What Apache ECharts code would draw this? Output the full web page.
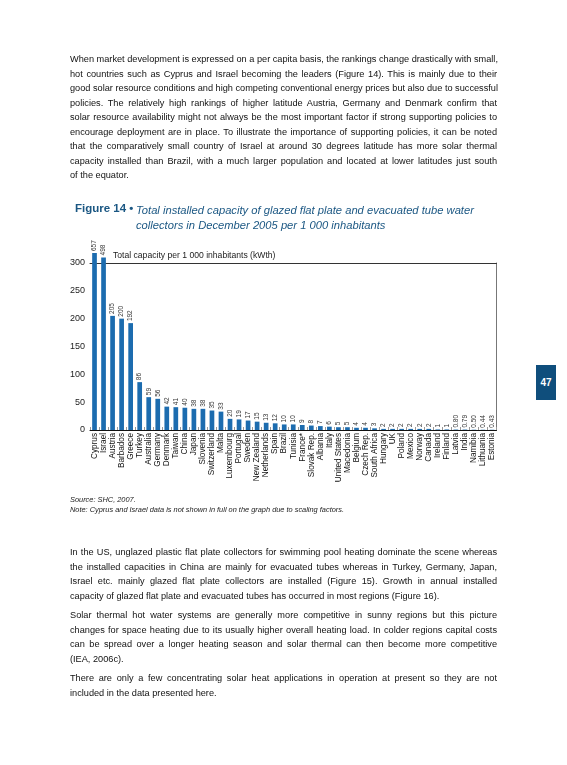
<!DOCTYPE html>
<html>
<head>
<meta charset="utf-8">
<title>Figure 14</title>
<script src="https://cdn.jsdelivr.net/npm/echarts@6/dist/echarts.min.js"></script>
<style>
  html, body { margin: 0; padding: 0; background: #fff; }
  #page { position: relative; width: 567px; height: 765px; overflow: hidden; }
  #main { position: absolute; left: 0; top: 0; width: 567px; height: 765px; }
  .txt { position: absolute; left: 70px; width: 427px; font-family: "Liberation Sans", Arial, sans-serif;
         font-size: 9.2px; line-height: 14.5px; color: #111; }
  .txt div { text-align: justify; text-align-last: justify; white-space: nowrap; overflow: visible; }
  .txt div.last { text-align-last: left; }
  .src { position: absolute; left: 70px; top: 495px; font-family: "Liberation Sans", Arial, sans-serif;
         font-style: italic; font-size: 7.4px; line-height: 10px; color: #222; }
  #pnum { position: absolute; left: 536px; top: 365px; width: 20px; height: 35px; background: #0f4e7c;
          color: #fff; font: bold 10px "Liberation Sans", Arial, sans-serif; text-align: center; line-height: 35px; }
</style>
</head>
<body>
<div id="page">
  <div id="main"></div>
  <div class="txt" style="top:52px">
    <div>When market development is expressed on a per capita basis, the rankings change drastically with small,</div>
    <div>hot countries such as Cyprus and Israel becoming the leaders (Figure 14). This is mainly due to their</div>
    <div>good solar resource conditions and high competing conventional energy prices but also due to successful</div>
    <div>policies. The relatively high rankings of higher latitude Austria, Germany and Denmark confirm that</div>
    <div>solar resource availability might not always be the most important factor if strong supporting policies to</div>
    <div>encourage deployment are in place. To illustrate the importance of supporting policies, it can be noted</div>
    <div>that the comparatively small country of Israel at around 30 degrees latitude has more solar thermal</div>
    <div>capacity installed than Brazil, with a much larger population and located at lower latitudes just south</div>
    <div class="last">of the equator.</div>
  </div>
  <div class="src">Source: SHC, 2007.<br>Note: Cyprus and Israel data is not shown in full on the graph due to scaling factors.</div>
  <div class="txt" style="top:545px">
    <div>In the US, unglazed plastic flat plate collectors for swimming pool heating dominate the scene whereas</div>
    <div>the installed capacities in China are mainly for evacuated tubes whereas in Turkey, Germany, Japan,</div>
    <div>Israel etc. mainly glazed flat plate collectors are installed (Figure 15). Growth in annual installed</div>
    <div class="last">capacity of glazed flat plate and evacuated tubes has occurred in most regions (Figure 16).</div>
  </div>
  <div class="txt" style="top:608px">
    <div>Solar thermal hot water systems are generally more competitive in sunny regions but this picture</div>
    <div>changes for space heating due to its usually higher overall heating load. In colder regions capital costs</div>
    <div>can be spread over a longer heating season and solar thermal can then become more competitive</div>
    <div class="last">(IEA, 2006c).</div>
  </div>
  <div class="txt" style="top:671px">
    <div>There are only a few concentrating solar heat applications in operation at present so they are not</div>
    <div class="last">included in the data presented here.</div>
  </div>
  <div id="pnum">47</div>
</div>
<script>
var countries = ['Cyprus', 'Israel', 'Austria', 'Barbados', 'Greece', 'Turkey', 'Australia', 'Germany',
  'Denmark', 'Taiwan', 'China', 'Japan', 'Slovenia', 'Switzerland', 'Malta', 'Luxembourg', 'Portugal',
  'Sweden', 'New Zealand', 'Netherlands', 'Spain', 'Brazil', 'Tunisia', 'France*', 'Slovak Rep.',
  'Albania', 'Italy', 'United States', 'Macedonia', 'Belgium', 'Czech Rep.', 'South Africa', 'Hungary',
  'UK', 'Poland', 'Mexico', 'Norway', 'Canada', 'Ireland', 'Finland', 'Latvia', 'India', 'Namibia',
  'Lithuania', 'Estonia'];
var capacity = [657, 498, 205, 200, 192, 86, 59, 56, 42, 41, 40, 38, 38, 35, 33, 20, 19, 17, 15, 13,
  12, 10, 10, 9, 8, 7, 6, 5, 5, 4, 4, 3, 2, 2, 2, 2, 2, 2, 1, 1, 0.80, 0.79, 0.50, 0.44, 0.43];
var yMin = 0, yMax = 300, yStep = 50;
var cap = 300;      // values above this are squeezed (not shown in full)
var squeeze = 0.05;

var myChart = echarts.init(document.getElementById('main'));

// bars above the cap get compressed, the label keeps the real number
var barData = capacity.map(function (v) {
  return { value: v > cap ? cap + (v - cap) * squeeze : v, raw: v };
});

var font = '"Liberation Sans", Arial, sans-serif';
var blue = '#1c6caf';

myChart.setOption({
  animation: false,
  title: [
    {
      text: 'Figure 14 •', left: 70, top: 198,
      textStyle: { fontFamily: font, fontSize: 11.5, fontWeight: 'bold', color: '#1b5783' }
    },
    {
      text: 'Total installed capacity of glazed flat plate and evacuated tube water\ncollectors in December 2005 per 1 000 inhabitants',
      left: 131, top: 198,
      textStyle: { fontFamily: font, fontSize: 11.2, fontStyle: 'italic', fontWeight: 'normal',
        color: '#1b5783', lineHeight: 15 }
    }
  ],
  grid: { left: 90, right: 70.5, top: 263, bottom: 335, containLabel: false },
  xAxis: [
    {
      type: 'category',
      data: countries,
      axisLine: { lineStyle: { color: '#111', width: 1 } },
      axisTick: { show: true, inside: true, length: 3, interval: 0, lineStyle: { color: '#999' } },
      axisLabel: { interval: 0, rotate: 90, margin: 3, fontFamily: font, fontSize: 8.2, color: '#111' }
    },
    {
      type: 'category', position: 'top', data: countries,
      axisLine: { show: true, onZero: false, lineStyle: { color: '#333', width: 1 } },
      axisTick: { show: false }, axisLabel: { show: false }
    }
  ],
  yAxis: [
    {
      type: 'value', min: yMin, max: yMax, interval: yStep,
      name: 'Total capacity per 1 000 inhabitants (kWth)',
      nameLocation: 'end', nameGap: 3,
      nameTextStyle: { align: 'left', padding: [0, 0, 0, 23], fontFamily: font, fontSize: 8.6, color: '#222' },
      axisLine: { show: false }, axisTick: { show: false }, splitLine: { show: false },
      axisLabel: { margin: 5, fontFamily: font, fontSize: 9, color: '#222' }
    },
    {
      type: 'value', position: 'right', min: yMin, max: yMax, interval: yStep,
      axisLine: { show: true, onZero: false, lineStyle: { color: '#777' } },
      axisTick: { show: false }, axisLabel: { show: false }, splitLine: { show: false }
    }
  ],
  series: [
    {
      type: 'bar',
      data: barData,
      barWidth: '52%',
      clip: false,
      itemStyle: { color: blue },
      label: {
        show: true, position: 'top', rotate: 90, align: 'left', verticalAlign: 'middle', distance: 2,
        fontFamily: font, fontSize: 6.5, color: '#333',
        formatter: function (p) {
          var v = p.data.raw;
          return v < 1 ? v.toFixed(2) : String(v);
        }
      }
    }
  ]
});
</script>
</body>
</html>
